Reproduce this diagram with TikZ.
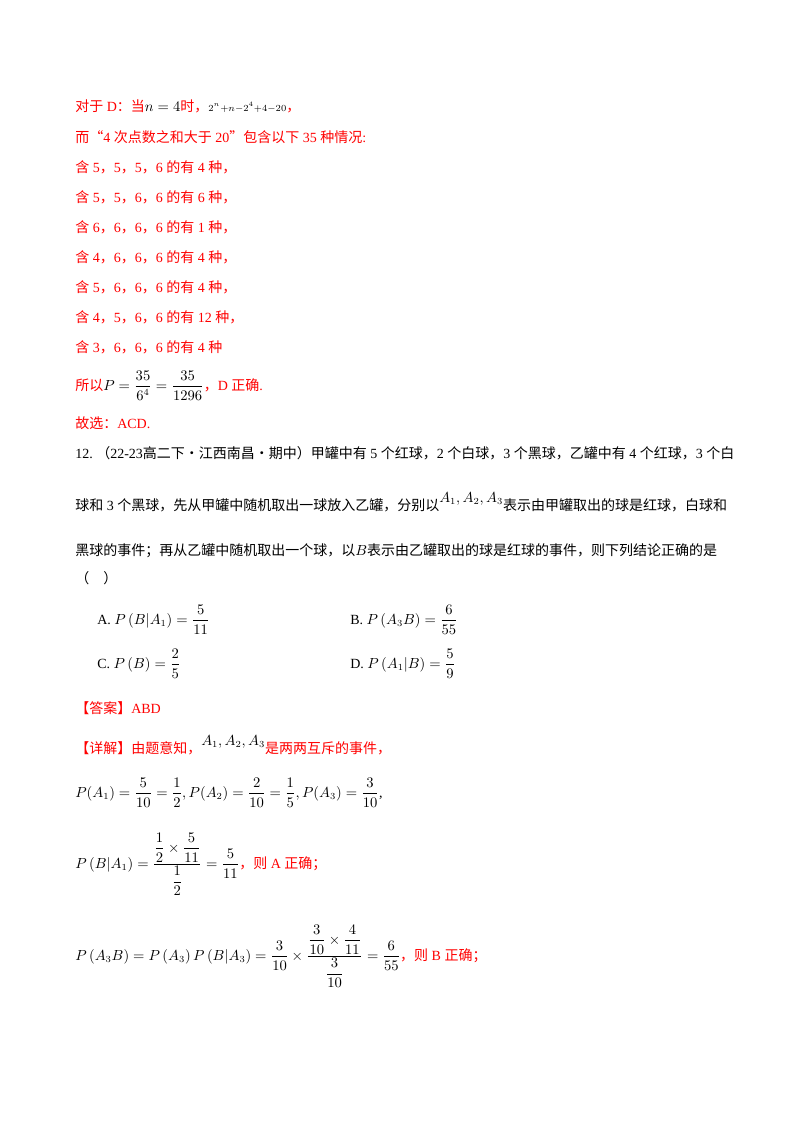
\documentclass[tikz,border=0pt]{standalone}
\usepackage{fontspec}
\usepackage{amsmath}
\setmainfont{Liberation Serif}
\newfontfamily\cjk{Noto Sans CJK SC}
\definecolor{myred}{RGB}{255,0,0}
\tikzset{ln/.style={anchor=base west,inner sep=0pt,font=\fontsize{10.5}{12}\selectfont},
 rl/.style={ln,text=myred}}
\newcommand{\zh}[1]{{\cjk #1}}
\newcommand{\gp}{\hspace{0.25em}}
\begin{document}
\begin{tikzpicture}[x=0.75pt,y=-0.75pt]
\useasboundingbox (0,0) rectangle (800,1132);
\node[rl] (l1) at (75,111) {\zh{对于}\gp D\zh{：当}\textcolor{black}{$n=4$}\zh{时，}\textcolor{black}{$\scriptstyle 2^n+n-2^4+4-20$}\zh{，}};
\node[rl] (l2) at (75,142) {\zh{而“}4\gp\zh{次点数之和大于}\gp 20\zh{”包含以下}\gp 35\gp\zh{种情况}:};
\node[rl] (l3) at (75,172) {\zh{含}\gp 5\zh{，}5\zh{，}5\zh{，}6\gp\zh{的有}\gp 4\gp\zh{种，}};
\node[rl] (l4) at (75,202) {\zh{含}\gp 5\zh{，}5\zh{，}6\zh{，}6\gp\zh{的有}\gp 6\gp\zh{种，}};
\node[rl] (l5) at (75,232) {\zh{含}\gp 6\zh{，}6\zh{，}6\zh{，}6\gp\zh{的有}\gp 1\gp\zh{种，}};
\node[rl] (l6) at (75,262) {\zh{含}\gp 4\zh{，}6\zh{，}6\zh{，}6\gp\zh{的有}\gp 4\gp\zh{种，}};
\node[rl] (l7) at (75,292) {\zh{含}\gp 5\zh{，}6\zh{，}6\zh{，}6\gp\zh{的有}\gp 4\gp\zh{种，}};
\node[rl] (l8) at (75,322) {\zh{含}\gp 4\zh{，}5\zh{，}6\zh{，}6\gp\zh{的有}\gp 12\gp\zh{种，}};
\node[rl] (l9) at (75,352) {\zh{含}\gp 3\zh{，}6\zh{，}6\zh{，}6\gp\zh{的有}\gp 4\gp\zh{种}};
\node[rl] (l10) at (75,390) {\zh{所以}\textcolor{black}{$P=\dfrac{35}{6^4}=\dfrac{35}{1296}$}\zh{，}D\gp\zh{正确}.};
\node[rl] (l11) at (75,428) {\zh{故选：}ACD.};
\node[ln] (q1) at (75,458) {12.\ \zh{（}22-23\zh{高二下·江西南昌·期中）甲罐中有}\gp 5\gp\zh{个红球，}2\gp\zh{个白球，}3\gp\zh{个黑球，乙罐中有}\gp 4\gp\zh{个红球，}3\gp\zh{个白}};
\node[ln] (q2) at (75,510) {\zh{球和}\gp 3\gp\zh{个黑球，先从甲罐中随机取出一球放入乙罐，分别以}\raisebox{6pt}{$A_1,A_2,A_3$}\zh{表示由甲罐取出的球是红球，白球和}};
\node[ln] (q3) at (75,555) {\zh{黑球的事件；再从乙罐中随机取出一个球，以}$B$\zh{表示由乙罐取出的球是红球的事件，则下列结论正确的是}};
\node[ln] (q4) at (75,583) {\zh{（\quad ）}};
\node[ln] (oa) at (97,624) {A.\ $P\left(B\middle|A_1\right)=\dfrac{5}{11}$};
\node[ln] (ob) at (350,624) {B.\ $P\left(A_3B\right)=\dfrac{6}{55}$};
\node[ln] (oc) at (97,668) {C.\ $P\left(B\right)=\dfrac{2}{5}$};
\node[ln] (od) at (350,668) {D.\ $P\left(A_1\middle|B\right)=\dfrac{5}{9}$};
\node[rl] (ans) at (75,713) {\zh{【答案】}ABD};
\node[rl] (d1) at (75,753) {\zh{【详解】由题意知，}\raisebox{6pt}{\textcolor{black}{$A_1,A_2,A_3$}}\zh{是两两互斥的事件，}};
\node[ln] (d2) at (75,797) {$P(A_1)=\dfrac{5}{10}=\dfrac{1}{2},P(A_2)=\dfrac{2}{10}=\dfrac{1}{5},P(A_3)=\dfrac{3}{10}$,};
\node[ln] (d3) at (75,868) {$P\left(B\middle|A_1\right)=\dfrac{\dfrac{1}{2}\times\dfrac{5}{11}}{\dfrac{1}{2}}=\dfrac{5}{11}$\textcolor{myred}{\zh{，则}\gp A\gp\zh{正确；}}};
\node[ln] (d4) at (75,960) {$P\left(A_3B\right)=P\left(A_3\right)P\left(B\middle|A_3\right)=\dfrac{3}{10}\times\dfrac{\dfrac{3}{10}\times\dfrac{4}{11}}{\dfrac{3}{10}}=\dfrac{6}{55}$\textcolor{myred}{\zh{，则}\gp B\gp\zh{正确；}}};
\end{tikzpicture}
\end{document}
